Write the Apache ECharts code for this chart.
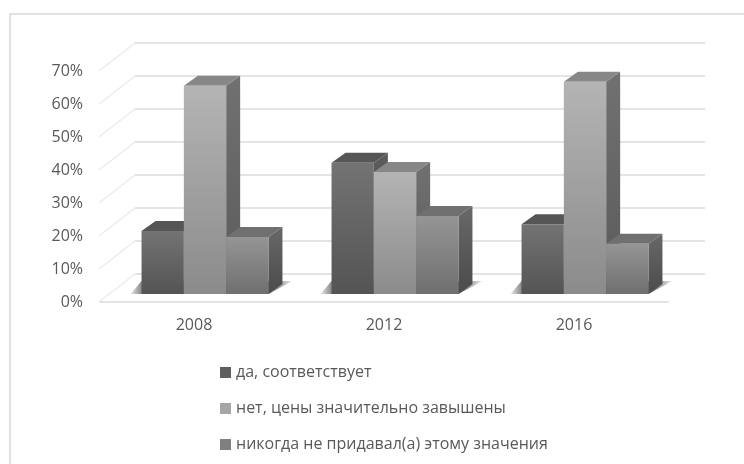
<!DOCTYPE html>
<html>
<head>
<meta charset="utf-8">
<style>
  html, body { margin: 0; padding: 0; background: #fff; }
  #chart { width: 744px; height: 464px; }
</style>
<script src="https://cdn.jsdelivr.net/npm/echarts@6/dist/echarts.min.js"></script>
</head>
<body>
<div id="chart"></div>
<script>
const years = ['2008', '2012', '2016'];
const yTicks = [0, 10, 20, 30, 40, 50, 60, 70];
const seriesNames = ['да, соответствует', 'нет, цены значительно завышены', 'никогда не придавал(а) этому значения'];
const yesValues = [19.1, 39.8, 21.1];
const noValues = [63.1, 37, 64.3];
const neverValues = [17.3, 23.6, 15.2];

// grey shades per series: front top/bottom, lid, side top/bottom
const shades = [
  { legend: '#5f5f5f', front: ['#737373', '#545454'], lid: '#565656', side: ['#5c5c5c', '#454545'] },
  { legend: '#a6a6a6', front: ['#b4b4b4', '#8b8b8b'], lid: '#878787', side: ['#717171', '#5a5a5a'] },
  { legend: '#808080', front: ['#959595', '#6f6f6f'], lid: '#707070', side: ['#686868', '#4b4b4b'] }
];

// 3d box look, in pixels
const wallDx = 36, wallDy = 28;
const barDx = 14, barDy = 10;
const floorLift = 8, groupShift = 11;
const barRatio = 42.3 / 190;

function vGrad(c) {
  return new echarts.graphic.LinearGradient(0, 0, 0, 1, [
    { offset: 0, color: c[0] },
    { offset: 1, color: c[1] }
  ]);
}

function poly(points, fill) {
  return { type: 'polygon', shape: { points: points }, style: { fill: fill } };
}

function barItem(seriesIndex) {
  return function (params, api) {
    const s = shades[seriesIndex];
    const cat = api.value(0);
    const w = api.size([1, 0])[0] * barRatio;
    const x0 = api.coord([cat, 0])[0] + groupShift + (seriesIndex - 1.5) * w;
    const x1 = x0 + w;
    const yb = api.coord([cat, 0])[1] - floorLift;
    const yt = api.coord([cat, api.value(1)])[1] - floorLift;
    return {
      type: 'group',
      children: [
        poly([[x1, yb], [x1, yt], [x1 + barDx, yt - barDy], [x1 + barDx, yb - barDy]], vGrad(s.side)),
        poly([[x0, yt], [x1, yt], [x1 + barDx, yt - barDy], [x0 + barDx, yt - barDy]], s.lid),
        poly([[x0, yb], [x1, yb], [x1, yt], [x0, yt]], vGrad(s.front))
      ]
    };
  };
}

function wallItem(params, api) {
  const cs = params.coordSys;
  const left = cs.x, right = cs.x + cs.width;
  const y = api.coord([0, api.value(0)])[1];
  const children = [
    {
      type: 'line',
      shape: { x1: left, y1: y, x2: left + wallDx, y2: y - wallDy },
      style: { stroke: '#ececec', lineWidth: 1.5 }
    },
    {
      type: 'line',
      shape: { x1: left + wallDx, y1: y - wallDy, x2: right + wallDx, y2: y - wallDy },
      style: { stroke: '#e4e4e4', lineWidth: 2 }
    }
  ];
  if (api.value(0) === 0) {
    children.push({
      type: 'line',
      shape: { x1: left, y1: y, x2: right, y2: y },
      style: { stroke: '#e4e4e4', lineWidth: 2 }
    });
  }
  return { type: 'group', children: children };
}

function shadowItem(params, api) {
  const cat = api.value(0);
  const w = api.size([1, 0])[0] * barRatio;
  const x0 = api.coord([cat, 0])[0] + groupShift - 1.5 * w;
  const x1 = x0 + 3 * w;
  const yb = api.coord([cat, 0])[1] - floorLift;
  return {
    type: 'polygon',
    shape: { points: [[x0 - 11, yb], [x1, yb], [x1 + barDx + 10, yb - barDy - 3], [x0, yb - barDy - 3]] },
    style: {
      fill: new echarts.graphic.LinearGradient(0, 0, 1, 0, [
        { offset: 0, color: '#e8e8e8' },
        { offset: 0.08, color: '#777777' },
        { offset: 0.88, color: '#777777' },
        { offset: 1, color: '#eeeeee' }
      ])
    }
  };
}

const valueSets = [yesValues, noValues, neverValues];

const barSeries = seriesNames.map(function (name, i) {
  return {
    name: name,
    type: 'custom',
    renderItem: barItem(i),
    encode: { x: 0, y: 1 },
    itemStyle: { color: shades[i].legend },
    data: valueSets[i].map(function (v, c) { return [c, v]; }),
    z: 4
  };
});

const option = {
  backgroundColor: '#fff',
  animation: false,
  graphic: [
    {
      type: 'line',
      shape: { x1: 10, y1: 14, x2: 744, y2: 14 },
      style: { stroke: '#e2e2e2', lineWidth: 2 },
      silent: true
    },
    {
      type: 'line',
      shape: { x1: 10, y1: 13, x2: 10, y2: 464 },
      style: { stroke: '#e2e2e2', lineWidth: 2 },
      silent: true
    }
  ],
  grid: { left: 99, right: 75, top: 71, bottom: 162 },
  legend: {
    orient: 'vertical',
    left: 220,
    top: 363,
    padding: 0,
    icon: 'rect',
    itemWidth: 11,
    itemHeight: 11,
    itemGap: 17,
    selectedMode: false,
    data: seriesNames,
    textStyle: { color: '#595959', fontFamily: 'Open Sans', fontSize: 16, lineHeight: 19 }
  },
  xAxis: {
    type: 'category',
    data: years,
    axisLine: { show: false },
    axisTick: { show: false },
    axisLabel: { color: '#595959', fontFamily: 'Open Sans', fontSize: 16, margin: 15 }
  },
  yAxis: {
    type: 'value',
    min: 0,
    max: 70,
    interval: 10,
    splitLine: { show: false },
    axisLine: { show: false },
    axisTick: { show: false },
    axisLabel: { color: '#595959', fontFamily: 'Open Sans', fontSize: 16, margin: 16, formatter: '{value}%' }
  },
  series: [
    {
      type: 'custom',
      renderItem: wallItem,
      silent: true,
      encode: { y: 0 },
      data: yTicks.map(function (t) { return [t]; }),
      z: 1
    },
    {
      type: 'custom',
      renderItem: shadowItem,
      silent: true,
      encode: { x: 0 },
      data: years.map(function (y, c) { return [c]; }),
      z: 2
    }
  ].concat(barSeries)
};

const myChart = echarts.init(document.getElementById('chart'));
myChart.setOption(option);
</script>
</body>
</html>
